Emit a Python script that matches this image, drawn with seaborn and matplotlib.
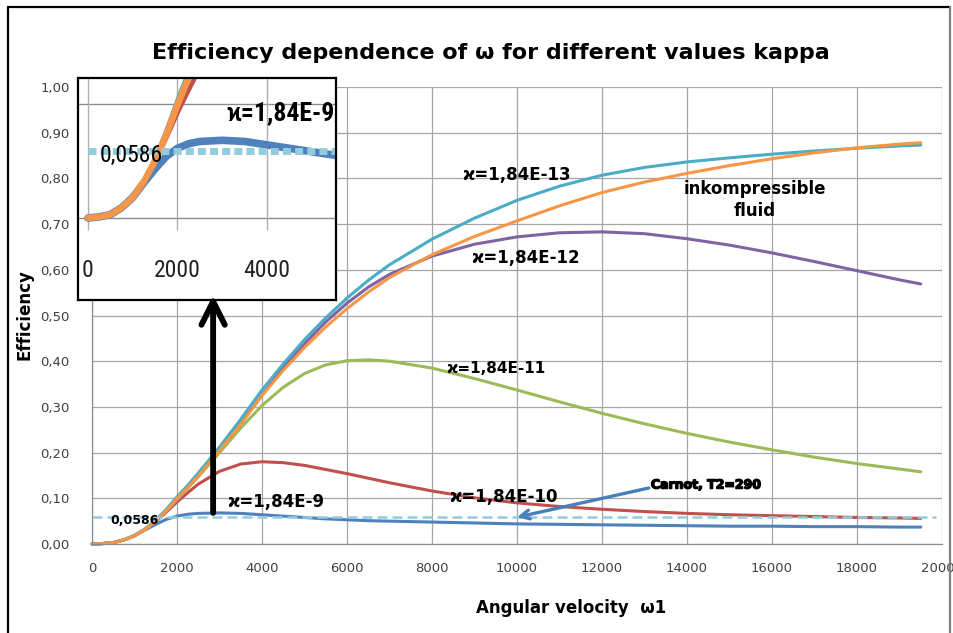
import matplotlib
matplotlib.use("Agg")
import matplotlib.pyplot as plt
import matplotlib.patheffects as pe
import pandas as pd
import seaborn as sns
from matplotlib import font_manager as fm
from matplotlib.lines import Line2D
from matplotlib.patches import FancyArrowPatch

# ---------------------------------------------------------------- data
omega = [0, 250, 500, 750, 1000, 1250, 1500, 1750, 2000, 2250, 2500, 3000,
         3500, 4000, 4500, 5000, 5500, 6000, 6500, 7000, 8000, 9000, 10000,
         11000, 12000, 13000, 14000, 15000, 16000, 17000, 18000, 19000, 19500]

eff_k9 = [0, 0.001, 0.003, 0.009, 0.018, 0.031, 0.043, 0.054, 0.061, 0.065,
          0.067, 0.068, 0.067, 0.064, 0.061, 0.058, 0.055, 0.053, 0.051, 0.050,
          0.048, 0.046, 0.044, 0.043, 0.042, 0.041, 0.040, 0.039, 0.039, 0.038,
          0.038, 0.037, 0.037]
eff_k10 = [0, 0.001, 0.003, 0.009, 0.018, 0.032, 0.049, 0.070, 0.092, 0.112,
           0.131, 0.159, 0.175, 0.180, 0.178, 0.172, 0.163, 0.154, 0.144, 0.134,
           0.116, 0.101, 0.090, 0.082, 0.076, 0.071, 0.067, 0.064, 0.062, 0.060,
           0.058, 0.057, 0.056]
eff_k11 = [0, 0.001, 0.003, 0.009, 0.018, 0.032, 0.050, 0.072, 0.097, 0.122,
           0.147, 0.200, 0.254, 0.303, 0.343, 0.373, 0.392, 0.401, 0.403, 0.400,
           0.385, 0.362, 0.337, 0.311, 0.286, 0.263, 0.242, 0.223, 0.206, 0.190,
           0.176, 0.164, 0.158]
eff_k12 = [0, 0.001, 0.003, 0.009, 0.018, 0.032, 0.050, 0.073, 0.099, 0.124,
           0.150, 0.206, 0.265, 0.326, 0.385, 0.438, 0.486, 0.527, 0.562, 0.590,
           0.630, 0.656, 0.672, 0.681, 0.683, 0.679, 0.668, 0.654, 0.637, 0.618,
           0.598, 0.578, 0.569]
eff_k13 = [0, 0.001, 0.003, 0.009, 0.019, 0.033, 0.052, 0.076, 0.103, 0.128,
           0.155, 0.212, 0.273, 0.337, 0.394, 0.447, 0.495, 0.538, 0.577, 0.611,
           0.667, 0.713, 0.752, 0.783, 0.807, 0.824, 0.836, 0.845, 0.853, 0.860,
           0.866, 0.871, 0.873]
eff_incomp = [0, 0.001, 0.003, 0.009, 0.018, 0.032, 0.050, 0.073, 0.099, 0.123,
              0.149, 0.204, 0.262, 0.325, 0.380, 0.430, 0.475, 0.515, 0.551, 0.583,
              0.633, 0.673, 0.707, 0.740, 0.769, 0.792, 0.811, 0.828, 0.843, 0.856,
              0.867, 0.875, 0.878]

carnot_value = 0.0586
carnot_x = [0, 19850]
carnot_y = [carnot_value, carnot_value]

series_names = ["ϰ=1,84E-9", "ϰ=1,84E-10", "ϰ=1,84E-11", "ϰ=1,84E-12",
                "ϰ=1,84E-13", "inkompressible fluid"]
series_values = [eff_k9, eff_k10, eff_k11, eff_k12, eff_k13, eff_incomp]
series_colors = ["#4F81BD", "#C0504D", "#9BBB59", "#8064A2", "#4BACC6", "#F79646"]
carnot_color = "#93CDDD"

x_ticks = list(range(0, 20001, 2000))
x_tick_labels = [str(v) for v in x_ticks]
y_ticks = [i / 10 for i in range(11)]
y_tick_labels = ["0,00", "0,10", "0,20", "0,30", "0,40", "0,50",
                 "0,60", "0,70", "0,80", "0,90", "1,00"]
inset_ticks = [0, 2000, 4000]
inset_tick_labels = ["0", "2000", "4000"]

# ---------------------------------------------------------------- style
sns.set_style("white")
plt.rcParams["font.family"] = ["DejaVu Sans"]
plt.rcParams["text.color"] = "black"

names = {f.name for f in fm.fontManager.ttflist}
narrow = next((n for n in ["Liberation Sans Narrow", "DejaVu Sans Condensed",
                           "Roboto Condensed"] if n in names), "DejaVu Sans")
narrow_fam = [narrow, "DejaVu Sans"]

W, H = 954, 633
fig = plt.figure(figsize=(W / 100, H / 100), dpi=100)


def fx(px):
    return px / W


def fy(py):
    return (H - py) / H


# ---------------------------------------------------------------- main axes
ax = fig.add_axes([fx(92), fy(544), fx(942) - fx(92), fy(87) - fy(544)])

long = pd.DataFrame({
    "omega": omega * len(series_names),
    "eff": [v for vals in series_values for v in vals],
    "series": [n for n in series_names for _ in omega],
})
sns.lineplot(data=long, x="omega", y="eff", hue="series", hue_order=series_names,
             palette=series_colors, sort=False, legend=False, lw=2.2,
             estimator=None, ax=ax, clip_on=False)
sns.lineplot(x=carnot_x, y=carnot_y, color=carnot_color, lw=1.8,
             linestyle=(0, (4, 2)), ax=ax, clip_on=False)

ax.set_xlim(0, 20000)
ax.set_ylim(0, 1)
ax.set_xticks(x_ticks)
ax.set_xticklabels(x_tick_labels)
ax.set_yticks(y_ticks)
ax.set_yticklabels(y_tick_labels)
ax.tick_params(axis="both", colors="#8c8c8c", labelcolor="#404040",
               labelsize=9.5, length=4, width=0.9, direction="out")
ax.tick_params(axis="y", pad=12)
ax.tick_params(axis="x", pad=9)
ax.grid(True, color="#a6a6a6", lw=0.9)
for side in ("top", "right"):
    ax.spines[side].set_visible(False)
for side in ("left", "bottom"):
    ax.spines[side].set_color("#8c8c8c")
    ax.spines[side].set_linewidth(0.9)
ax.set_xlabel("")
ax.set_ylabel("")

# curve labels
lbl = dict(fontsize=12, fontweight="bold", color="black", ha="center", va="center")
ax.text(9980, 0.807, "ϰ=1,84E-13", **lbl)
ax.text(15600, 0.753, "inkompressible\nfluid", linespacing=1.3, **lbl)
ax.text(10210, 0.626, "ϰ=1,84E-12", **lbl)
ax.text(9500, 0.383, "ϰ=1,84E-11", fontsize=11, fontweight="bold", ha="center", va="center")
ax.text(9670, 0.103, "ϰ=1,84E-10", **lbl)
ax.text(4330, 0.092, "ϰ=1,84E-9", **lbl)
ax.text(1010, 0.052, "0,0586", fontsize=9, fontweight="bold", ha="center", va="center")

ax.text(13150, 0.129, "Carnot, T2=290", fontsize=9, fontweight="bold",
        ha="left", va="center",
        path_effects=[pe.withStroke(linewidth=1.0, foreground="black")])
ax.annotate("", xy=(10000, carnot_value), xytext=(13100, 0.1225),
            arrowprops=dict(arrowstyle="->", color="#4a7ebb", lw=2.4,
                            mutation_scale=16, shrinkA=0, shrinkB=0))

# titles
fig.text(fx(491), fy(53), "Efficiency dependence of ω for different values kappa",
         fontsize=16, fontweight="bold", color="black", ha="center", va="center")
fig.text(fx(25), fy(315), "Efficiency", rotation=90, fontsize=12,
         fontweight="bold", color="black", ha="center", va="center")
fig.text(fx(571), fy(608), "Angular velocity  ω1", fontsize=12,
         fontweight="bold", color="black", ha="center", va="center")

# ---------------------------------------------------------------- inset
ax_in = fig.add_axes([fx(78), fy(300), fx(336) - fx(78), fy(78) - fy(300)])
ax_in.set_xticks([])
ax_in.set_yticks([])
for s in ax_in.spines.values():
    s.set_color("black")
    s.set_linewidth(1.6)
ax_in.axhline(0.0, color="#8c8c8c", lw=1.0, zorder=0)
ax_in.axhline(0.1, color="#8c8c8c", lw=1.0, zorder=0)
ax_in.vlines(inset_ticks, -0.0105, 0.1225, color="#b0b0b0", lw=1.0, zorder=0)

inset_widths = [5.5, 3.2, 3.2, 3.2, 3.2, 4.6]
for vals, col, w in zip(series_values, series_colors, inset_widths):
    sns.lineplot(x=omega, y=vals, color=col, lw=w, ax=ax_in, sort=False)
sns.lineplot(x=carnot_x, y=carnot_y, color=carnot_color, lw=5,
             linestyle=(0, (1.15, 0.6)), ax=ax_in)
ax_in.set_xlim(-223, 5542)
ax_in.set_ylim(-0.0717, 0.1225)
ax_in.set_xlabel("")
ax_in.set_ylabel("")

for xv, t in zip(inset_ticks, inset_tick_labels):
    ax_in.text(xv, -0.0455, t, family=narrow_fam, fontsize=17, color="#222222",
               ha="center", va="center")
ax_in.text(960, 0.055, "0,0586", family=narrow_fam, fontsize=17,
           color="black", ha="center", va="center")
ax_in.text(4300, 0.092, "ϰ=1,84E-9", family=narrow_fam, fontsize=18.5,
           fontweight="bold", color="black", ha="center", va="center")

# black pointer from the peak of the lowest curve up to the inset
pointer = FancyArrowPatch((2850, 0.068), (2850, 0.545), transform=ax.transData,
                          arrowstyle="->", mutation_scale=42, lw=4.2,
                          color="black", shrinkA=0, shrinkB=0, zorder=5)
fig.add_artist(pointer)

# frame around the figure
frame_kw = dict(transform=fig.transFigure, lw=1.6)
fig.add_artist(Line2D([fx(8), fx(950)], [fy(7), fy(7)], color="black", **frame_kw))
fig.add_artist(Line2D([fx(8), fx(8)], [fy(7), 0], color="black", **frame_kw))
fig.add_artist(Line2D([fx(950), fx(950)], [fy(7), 0], color="#7f7f7f", **frame_kw))

fig.savefig("out.png", dpi=100)
